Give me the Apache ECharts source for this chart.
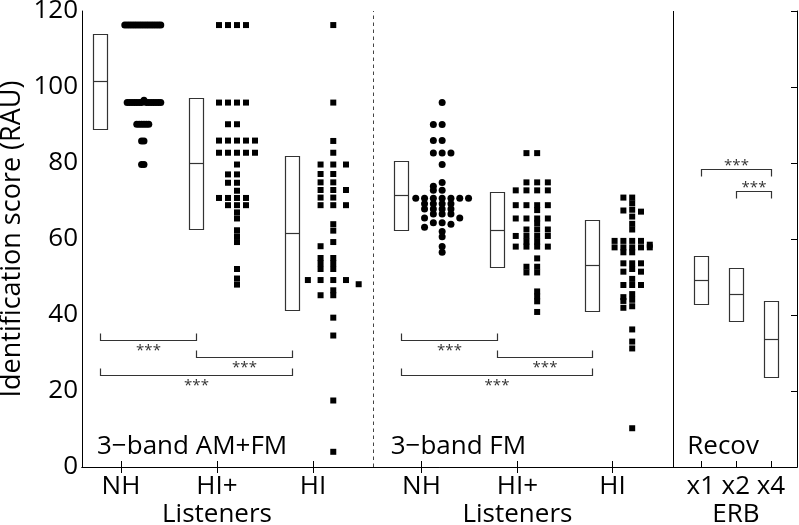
<!DOCTYPE html>
<html><head><meta charset="utf-8">
<script src="https://cdn.jsdelivr.net/npm/echarts@6/dist/echarts.min.js"></script>
<style>html,body{margin:0;padding:0;background:#fff}#c{width:799px;height:525px}</style>
</head><body><div id="c"></div>
<script>
// ---------------- DATA ----------------
const categories = ['NH', 'HI+', 'HI', 'NH', 'HI+', 'HI', 'x1', 'x2', 'x4'];
const groupTitles = ['Listeners', 'Listeners', 'ERB'];
const groupTitleAt = [1, 4, 7];
const panelNames = ['3\u2212band AM+FM', '3\u2212band FM', 'Recov'];
const yAxisTitle = 'Identification score (RAU)';

// individual scores (RAU)
const amfmNH = [116.3,116.3,116.3,116.3,116.3,116.3,116.3,116.3,116.3,116.3,116.3,116.3,116.3,116.3,116.3,116.3,
  96.5,95.9,95.9,95.9,95.9,95.9,95.9,95.9,95.9,95.9,95.9,95.9,95.9,95.9,95.9,
  90.2,90.2,90.2,90.2,90.2,90.2, 85.8,85.8, 79.6,79.6];
const amfmHIp = [116.3,116.3,116.3,116.3, 95.9,95.9,95.9,95.9, 90.2,90.2, 85.9,85.9,85.9,85.9,85.9,
  82.7,82.7,82.7,82.7,82.7, 79.6, 77.0,77.0, 74.8,74.8, 72.7, 70.8,70.8,70.8,70.8, 68.9,68.9,68.9,
  67.0, 65.4, 62.3, 60.7, 59.2, 52.1, 49.6, 48.0];
const amfmHI = [116.3, 95.9, 85.8, 82.7, 79.6,79.6,79.6, 77.1,77.1, 74.9,74.9, 72.9,72.9,72.9, 70.9,70.9,
  68.9,68.9,68.9, 63.9, 62.2, 59.2, 58.1, 55.0,55.0, 53.6,53.6, 52.1,52.1, 49.2,49.2,49.2,49.2, 48.1,
  46.5, 45.2,45.2, 39.3, 34.6, 17.5, 4.0];
const fmNH = [95.9, 90.1,90.1, 85.9,85.9, 82.6,82.6,82.6, 79.6, 74.9, 73.9, 72.8,72.8,
  70.7,70.7,70.7,70.7,70.7,70.7,70.7, 69.3,69.3,69.3,69.3, 67.9,67.9,67.9,67.9, 66.6,66.6,66.6,
  65.5,65.5, 64.3,64.3, 63.9, 63.1, 62.0, 60.6, 58.0, 56.5];
const fmHIp = [82.6,82.6, 74.9,74.9,74.9, 72.8,72.8,72.8,72.8, 68.9,68.9,68.9,68.9, 67.6,
  65.4,65.4,65.4,65.4, 64.1, 62.5,62.5,62.5, 60.8,60.8,60.8,60.8, 59.3,59.3, 58.0,58.0,58.0,58.0,
  54.9, 52.7,52.7, 51.2,51.2, 46.2, 44.9, 43.6, 40.8];
const fmHI = [70.9,70.9, 69.4, 67.5,67.2,67.7, 65.9, 64.0, 62.5, 59.5,59.5,59.5,59.5, 58.5,
  57.8,57.8,57.8,57.8,57.8, 56.5,56.5, 53.6,53.6,53.6, 52.1, 51.4,51.4, 49.5, 47.9,47.9,47.9,
  45.5, 44.7, 44.0, 43.7, 42.3, 41.9, 36.2, 33.0, 31.2, 10.2];

// summary boxes (low / centre / high)
const boxLow  = [89.1, 62.6, 41.5, 62.4, 52.6, 41.1, 42.8, 38.4, 23.5];
const boxMid  = [101.5, 79.9, 61.7, 71.5, 62.5, 53.2, 49.1, 45.4, 33.6];
const boxHigh = [114.0, 97.2, 81.9, 80.6, 72.4, 65.1, 55.4, 52.3, 43.6];

// significance brackets
const bracketFrom = [0, 1, 0, 3, 4, 3, 6, 7];
const bracketTo   = [1, 2, 2, 4, 5, 5, 8, 8];
const bracketY    = [33.4, 28.9, 24.1, 33.4, 28.9, 24.1, 78.3, 72.6];
const bracketText = '***';

// ---------------- LAYOUT / STYLE ----------------
const FONT = '"Open Sans", "Noto Sans", sans-serif';
const catPos = [1, 2, 3, 4.13, 5.13, 6.12, 7.04, 7.405, 7.77];
const xMin = 0.594, xMax = 8.042, yMin = 0, yMax = 120;
const dividerPos = [3.625, 6.75];
const dividerDashed = [true, false];
const panelLeft = [xMin, 3.625, 6.75];
const panelDx = [15, 17.7, 14.3];
const boxOffsetPx = [-20.5, -20.5, -20.5, -20.5, -20.5, -20.5, 0, 0, 0];
const bracketDir = [1, 1, 1, 1, 1, 1, -1, -1];

const groups = [
  {vals: amfmNH, idx: 0, shape: 'circle', step: 2.4, off: 23},
  {vals: amfmHIp, idx: 1, shape: 'rect', step: 9, off: 20},
  {vals: amfmHI, idx: 2, shape: 'rect', step: 12.7, off: 20.3},
  {vals: fmNH, idx: 3, shape: 'circle', step: 8.8, off: 20.7},
  {vals: fmHIp, idx: 4, shape: 'rect', step: 10.7, off: 19.7},
  {vals: fmHI, idx: 5, shape: 'rect', step: 8.8, off: 19.7}
];

function swarm(values, pos, off, step, binW) {
  const s = values.slice().sort((a, b) => b - a);
  const order = [0, -1, 1, -2, 2, -3, 3, -4, 4, -5, 5, -6, 6, -7, 7, -8, 8, -9, 9, -10, 10];
  const out = [];
  let i = 0;
  while (i < s.length) {
    let j = i;
    while (j < s.length && s[j] >= s[i] - binW - 1e-9) j++;
    for (let k = i; k < j; k++) out.push([pos, s[k], off + order[k - i] * step]);
    i = j;
  }
  return out;
}

function labelFor(v) {
  const i = catPos.findIndex(p => Math.abs(p - v) < 1e-6);
  return i < 0 ? '' : categories[i];
}

const series = [];

// dividers
series.push({
  type: 'custom', silent: true,
  data: dividerPos.map((p, i) => [p, 0, i]),
  renderItem: (params, api) => {
    const a = api.coord([api.value(0), yMin]);
    const b = api.coord([api.value(0), yMax]);
    const x = Math.round(a[0]) + 0.5;
    const dashed = dividerDashed[api.value(2)];
    return {type: 'line', shape: {x1: x, y1: a[1], x2: x, y2: b[1]},
      style: {stroke: dashed ? '#444' : '#000', lineWidth: 1, lineDash: dashed ? [3.5, 3.5] : null}};
  }
});

// boxes
series.push({
  type: 'custom', silent: true,
  data: catPos.map((p, i) => [p, boxLow[i], boxMid[i], boxHigh[i], boxOffsetPx[i]]),
  renderItem: (params, api) => {
    const pos = api.value(0);
    const lo = api.coord([pos, api.value(1)]);
    const md = api.coord([pos, api.value(2)]);
    const hi = api.coord([pos, api.value(3)]);
    const cx = lo[0] + api.value(4);
    const x0 = Math.round(cx - 7) + 0.5;
    return {type: 'group', children: [
      {type: 'rect', shape: {x: x0, y: Math.round(hi[1]) + 0.5, width: 14, height: Math.round(lo[1] - hi[1])},
        style: {fill: '#fff', stroke: '#333', lineWidth: 1.2}},
      {type: 'line', shape: {x1: x0, y1: Math.round(md[1]) + 0.5, x2: x0 + 14, y2: Math.round(md[1]) + 0.5},
        style: {stroke: '#333', lineWidth: 1.2}}
    ]};
  }
});

// dots
groups.forEach(g => {
  series.push({
    type: 'custom', silent: true,
    data: swarm(g.vals, catPos[g.idx], g.off, g.step, 1.25),
    renderItem: (params, api) => {
      const p = api.coord([api.value(0), api.value(1)]);
      const x = p[0] + api.value(2);
      if (g.shape === 'circle') return {type: 'circle', shape: {cx: x, cy: p[1], r: 3.5}, style: {fill: '#000'}};
      return {type: 'rect', shape: {x: x - 3, y: p[1] - 3, width: 6, height: 6}, style: {fill: '#000'}};
    }
  });
});

// brackets
series.push({
  type: 'custom', silent: true,
  data: bracketFrom.map((f, i) => [catPos[f], catPos[bracketTo[i]], bracketY[i], bracketDir[i], boxOffsetPx[f], boxOffsetPx[bracketTo[i]]]),
  renderItem: (params, api) => {
    const a = api.coord([api.value(0), api.value(2)]);
    const b = api.coord([api.value(1), api.value(2)]);
    const dir = api.value(3);
    const x1 = Math.round(a[0] + api.value(4)) + 0.5;
    const x2 = Math.round(b[0] + api.value(5)) + 0.5;
    const y = Math.round(a[1]) + 0.5;
    const e = y - dir * 7;
    const ty = dir > 0 ? y + 10 : y - 3.5;
    return {type: 'group', children: [
      {type: 'polyline', shape: {points: [[x1, e], [x1, y], [x2, y], [x2, e]]},
        style: {stroke: '#333', lineWidth: 1.2, fill: null}},
      {type: 'text', x: (x1 + x2) / 2, y: ty,
        style: {text: bracketText, fill: '#333', font: '15px ' + FONT, align: 'center', verticalAlign: 'middle'}}
    ]};
  }
});

// panel names
series.push({
  type: 'custom', silent: true,
  data: panelLeft.map((p, i) => [p, 0, i]),
  renderItem: (params, api) => {
    const i = api.value(2);
    const p = api.coord([api.value(0), yMin]);
    return {type: 'text', x: p[0] + panelDx[i], y: p[1] - 20.5,
      style: {text: panelNames[i], fill: '#000', font: '26px ' + FONT, align: 'left', verticalAlign: 'middle'}};
  }
});

// group titles under the axis + y-axis title
series.push({
  type: 'custom', silent: true, clip: false,
  data: groupTitleAt.map((c, i) => [catPos[c], 0, i]).concat([[xMin, (yMin + yMax) / 2, -1]]),
  renderItem: (params, api) => {
    const i = api.value(2);
    if (i < 0) {
      const q = api.coord([api.value(0), api.value(1)]);
      return {type: 'text', x: q[0] - 69.5, y: q[1], rotation: Math.PI / 2,
        style: {text: yAxisTitle, fill: '#000', font: '27px ' + FONT, align: 'center', verticalAlign: 'middle'}};
    }
    const p = api.coord([api.value(0), yMin]);
    return {type: 'text', x: p[0], y: p[1] + 48,
      style: {text: groupTitles[i], fill: '#000', font: '26px ' + FONT, align: 'center', verticalAlign: 'middle'}};
  }
});

const chart = echarts.init(document.getElementById('c'), null, {renderer: 'canvas'});
chart.setOption({
  animation: false,
  backgroundColor: '#fff',
  grid: {left: 82, right: 2, top: 11, bottom: 58, containLabel: false, outerBoundsMode: 'none'},
  xAxis: [
    {type: 'value', min: xMin, max: xMax, position: 'bottom',
      axisLine: {show: true, lineStyle: {color: '#000', width: 1}},
      axisTick: {show: true, inside: true, length: 6, customValues: catPos, lineStyle: {color: '#000'}},
      axisLabel: {show: true, customValues: catPos, formatter: labelFor, fontFamily: FONT, fontSize: 26,
        color: '#000', lineHeight: 31, margin: 4, hideOverlap: false},
      splitLine: {show: false}},
    {type: 'value', min: xMin, max: xMax, position: 'top',
      axisLine: {show: true, lineStyle: {color: '#000', width: 1}},
      axisTick: {show: true, inside: true, length: 6, customValues: catPos.slice(0, 6), lineStyle: {color: '#000'}},
      axisLabel: {show: false},
      splitLine: {show: false}}
  ],
  yAxis: [
    {type: 'value', min: yMin, max: yMax, interval: 20, position: 'left',
      axisLine: {show: true, lineStyle: {color: '#000', width: 1}},
      axisTick: {show: false},
      axisLabel: {fontFamily: FONT, fontSize: 26, color: '#000', margin: 4},
      splitLine: {show: false}},
    {type: 'value', min: yMin, max: yMax, interval: 20, position: 'right',
      axisLine: {show: true, lineStyle: {color: '#000', width: 1}},
      axisTick: {show: true, inside: true, length: 6, lineStyle: {color: '#000'}},
      axisLabel: {show: false},
      splitLine: {show: false}}
  ],
  series: series
});
</script></body></html>
